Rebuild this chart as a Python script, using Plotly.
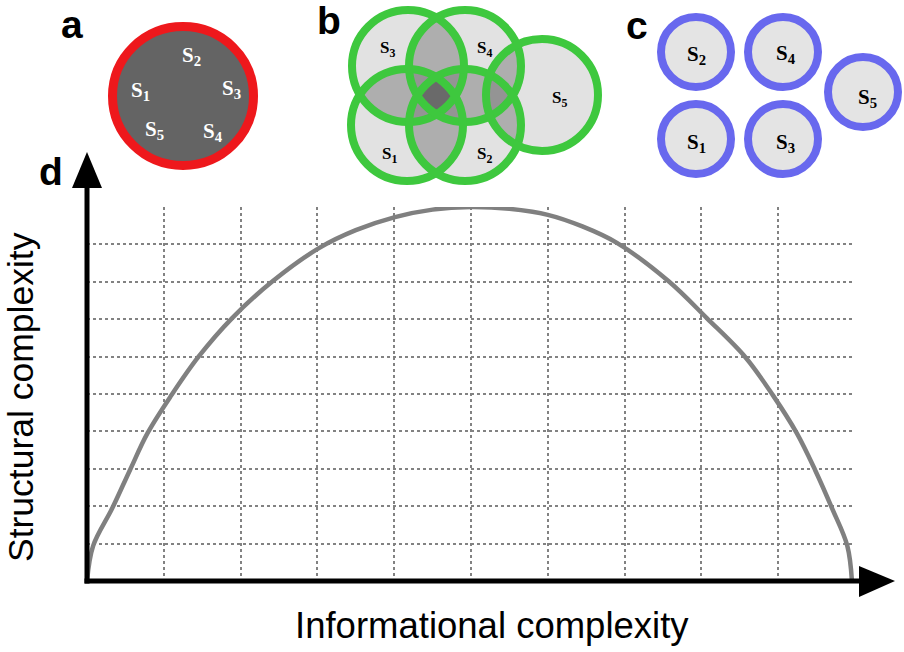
import numpy as np
import plotly.graph_objects as go

W, H = 904, 652

# ---------------- data (panel d) ----------------
info_complexity = [0, 0.08, 0.33, 0.56, 0.79, 1.10, 1.45, 1.89, 2.42, 3.02, 3.50, 4.01, 4.50, 5.00,
                   5.50, 6.00, 6.45, 6.90, 7.57, 8.07, 8.57, 8.93, 9.24, 9.48, 9.70, 9.90, 9.96]
struct_complexity = [0, 0.94, 1.95, 2.97, 3.96, 4.97, 5.99, 7.03, 8.02, 8.90, 9.38, 9.73, 9.93, 10.0,
                     9.95, 9.79, 9.48, 9.04, 8.02, 7.03, 5.99, 4.97, 3.96, 2.97, 1.95, 0.94, 0]
grid_ticks = list(range(0, 11))

x_title = "Informational complexity"
y_title = "Structural complexity"
panel_letters = ["a", "b", "c", "d"]

# ---------------- schematic panels (pixel layout) ----------------
# panel a: one red system containing all subsystems
a_center = (183, 96)
a_radius = (70.5, 69.5)
a_labels = ["S<sub>2</sub>", "S<sub>1</sub>", "S<sub>3</sub>", "S<sub>5</sub>", "S<sub>4</sub>"]
a_label_pos = [(191, 56), (140, 91), (231, 89), (154, 130), (213, 132)]

# panel b: overlapping green subsystems
b_centers = [(408, 66), (465, 66), (407, 125), (465, 125), (542, 95)]
b_radius = 56
b_labels = ["S<sub>3</sub>", "S<sub>4</sub>", "S<sub>1</sub>", "S<sub>2</sub>", "S<sub>5</sub>"]
b_label_pos = [(387, 49), (484, 49), (389, 155), (484, 155), (559, 99)]
b_shades = [255, 226, 174, 148, 106]   # by number of overlapping circles

# panel c: separated blue subsystems
c_centers = [(696, 52), (783, 52), (696, 139), (783, 139), (863, 92)]
c_radius = 35
c_labels = ["S<sub>2</sub>", "S<sub>4</sub>", "S<sub>1</sub>", "S<sub>3</sub>", "S<sub>5</sub>"]
c_label_pos = [(696, 55), (786, 54), (696, 143), (785, 143), (867, 98)]

letter_pos = [(72, 24), (329, 20), (637, 25), (51, 171)]

RED = "rgb(238,24,28)"
GREEN = "rgb(62,200,62)"
BLUE = "rgb(104,104,238)"

fig = go.Figure()

# main curve
fig.add_trace(go.Scatter(
    x=info_complexity, y=struct_complexity, mode="lines",
    line=dict(color="rgb(128,128,128)", width=4.5, shape="spline", smoothing=1.0),
    cliponaxis=False, hoverinfo="skip", showlegend=False,
    xaxis="x", yaxis="y"))

# venn shading raster for panel b
bx0, by0, bw, bh = 338, 0, 272, 194
xs = np.arange(bw) + bx0 + 0.5
ys = np.arange(bh) + by0 + 0.5
X, Y = np.meshgrid(xs, ys)
count = np.zeros(X.shape, dtype=int)
for (cx, cy) in b_centers:
    count += (((X - cx) ** 2 + (Y - cy) ** 2) <= b_radius ** 2).astype(int)
shade = np.array(b_shades)[np.clip(count, 0, 4)]
rgb = np.stack([shade, shade, shade], axis=-1).astype(int)
fig.add_trace(go.Image(z=rgb.tolist(), x0=bx0 + 0.5, y0=by0 + 0.5, dx=1, dy=1,
                       xaxis="x2", yaxis="y2", hoverinfo="skip"))

shapes = []
# panel a
shapes.append(dict(type="circle", xref="x2", yref="y2",
                   x0=a_center[0] - a_radius[0], x1=a_center[0] + a_radius[0],
                   y0=a_center[1] - a_radius[1], y1=a_center[1] + a_radius[1],
                   fillcolor="rgb(100,100,100)", line=dict(color=RED, width=9)))
# panel b rings
for (cx, cy) in b_centers:
    shapes.append(dict(type="circle", xref="x2", yref="y2",
                       x0=cx - b_radius, x1=cx + b_radius, y0=cy - b_radius, y1=cy + b_radius,
                       fillcolor="rgba(0,0,0,0)", line=dict(color=GREEN, width=8)))
# panel c
for (cx, cy) in c_centers:
    shapes.append(dict(type="circle", xref="x2", yref="y2",
                       x0=cx - c_radius, x1=cx + c_radius, y0=cy - c_radius, y1=cy + c_radius,
                       fillcolor="rgb(228,228,228)", line=dict(color=BLUE, width=8)))

# axes with arrows (panel d)
shapes.append(dict(type="line", xref="x2", yref="y2", x0=87, x1=87, y0=583.5, y1=180,
                   line=dict(color="black", width=5)))
shapes.append(dict(type="path", xref="x2", yref="y2", path="M 72,188 L 87,152 L 102,188 Z",
                   fillcolor="black", line=dict(color="black", width=0)))
shapes.append(dict(type="line", xref="x2", yref="y2", x0=84.5, x1=866, y0=581, y1=581,
                   line=dict(color="black", width=5)))
shapes.append(dict(type="path", xref="x2", yref="y2", path="M 859,566 L 895,581 L 859,597 Z",
                   fillcolor="black", line=dict(color="black", width=0)))

annotations = []
for letter, (lx, ly) in zip(panel_letters, letter_pos):
    annotations.append(dict(x=lx, y=ly, xref="x2", yref="y2", text="<b>%s</b>" % letter,
                            showarrow=False, xanchor="center", yanchor="middle",
                            font=dict(family="Liberation Sans, Arial, sans-serif", size=39, color="black")))

def add_labels(labels, positions, size, color):
    for t, (px, py) in zip(labels, positions):
        annotations.append(dict(x=px, y=py, xref="x2", yref="y2", text="<b>%s</b>" % t,
                                showarrow=False, xanchor="center", yanchor="middle",
                                font=dict(family="Liberation Serif, Times New Roman, serif",
                                          size=size, color=color)))

add_labels(a_labels, a_label_pos, 21, "white")
add_labels(b_labels, b_label_pos, 17, "black")
add_labels(c_labels, c_label_pos, 21, "black")

annotations.append(dict(x=492, y=625, xref="x2", yref="y2", text=x_title, showarrow=False,
                        xanchor="center", yanchor="middle",
                        font=dict(family="Liberation Sans, Arial, sans-serif", size=36.5, color="black")))
annotations.append(dict(x=21, y=397, xref="x2", yref="y2", text=y_title, showarrow=False,
                        textangle=-90, xanchor="center", yanchor="middle",
                        font=dict(family="Liberation Sans, Arial, sans-serif", size=35.5, color="black")))

x_dom = [87 / W, 855 / W]
y_dom = [(H - 581) / H, (H - 207) / H]

fig.update_layout(
    width=W, height=H,
    margin=dict(l=0, r=0, t=0, b=0),
    paper_bgcolor="white", plot_bgcolor="rgba(0,0,0,0)",
    showlegend=False,
    xaxis=dict(domain=x_dom, range=[0, 10], tickvals=grid_ticks, showticklabels=False,
               ticks="", showgrid=True, gridcolor="rgb(130,130,130)", griddash="dot",
               gridwidth=1.6, zeroline=False, showline=False, fixedrange=True, anchor="y"),
    yaxis=dict(domain=y_dom, range=[0, 10], tickvals=grid_ticks, showticklabels=False,
               ticks="", showgrid=True, gridcolor="rgb(130,130,130)", griddash="dot",
               gridwidth=1.6, zeroline=False, showline=False, fixedrange=True, anchor="x"),
    xaxis2=dict(domain=[0, 1], range=[0, W], visible=False, fixedrange=True, anchor="y2"),
    yaxis2=dict(domain=[0, 1], range=[H, 0], visible=False, fixedrange=True, anchor="x2"),
    shapes=shapes,
    annotations=annotations,
)

fig.write_html("out.html", config={"displayModeBar": False},
               post_script="document.body.style.margin='0px';document.body.style.padding='0px';")
